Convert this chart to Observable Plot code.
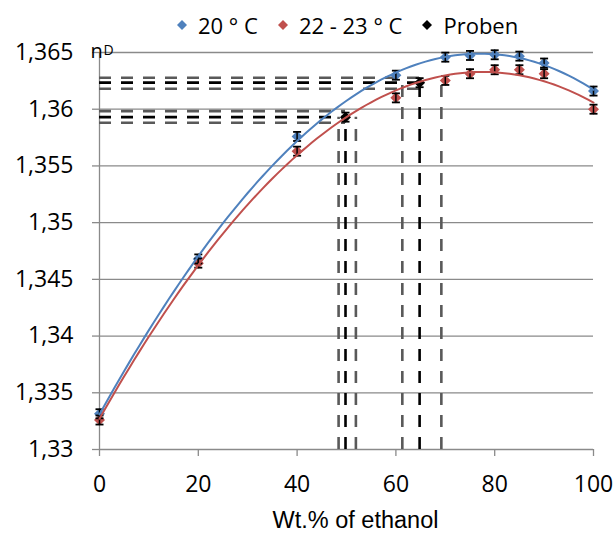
<!DOCTYPE html>
<html><head><meta charset="utf-8">
<script src="https://cdn.jsdelivr.net/npm/d3@7"></script>
<script src="https://cdn.jsdelivr.net/npm/@observablehq/plot@0.6"></script>
<style>
body{margin:0;background:#fff;}
#legend{position:relative;height:34px;font-family:"Open Sans",sans-serif;font-size:22px;color:#000;}
#legend .items{position:absolute;left:177px;top:10px;display:flex;align-items:center;height:30px;white-space:nowrap;}
#legend .item{display:flex;align-items:center;margin-right:20px;}
#legend svg{margin-right:11px;}
</style></head><body>
<div id="legend"><div class="items"></div></div>
<div id="chart"></div>
<script>
// ---- data ----
const wtPercent = [0, 20, 40, 60, 70, 75, 80, 85, 90, 100];
const nD20 = [1.33315, 1.3468, 1.3576, 1.3630, 1.36459, 1.36474, 1.3648, 1.36468, 1.36407, 1.3616];
const nD2223 = [1.3326, 1.34643, 1.3563, 1.3610, 1.36254, 1.36313, 1.36348, 1.36348, 1.36313, 1.3600];
const errHalf = 0.0004;
const probenX = [49.8, 64.8];
const probenY = [1.3593, 1.36234];
const probenXLow = [48.4, 61.3];
const probenXHigh = [51.9, 69.2];
const probenYLow = [1.35881, 1.36181];
const probenYHigh = [1.35983, 1.36278];
const xTicks = [0, 20, 40, 60, 80, 100];
const yTicks = [1.33, 1.335, 1.34, 1.345, 1.35, 1.355, 1.36, 1.365];
const yTickLabels = ["1,33", "1,335", "1,34", "1,345", "1,35", "1,355", "1,36", "1,365"];
const seriesNames = ["20 ° C", "22 - 23 ° C", "Proben"];
const seriesColors = ["#4F81BD", "#C0504D", "#000000"];
const xTitle = "Wt.% of ethanol";

// ---- legend ----
const items = d3.select("#legend .items");
seriesNames.forEach((name, i) => {
  const it = items.append("div").attr("class", "item");
  const s = it.append("svg").attr("width", 10).attr("height", 10);
  s.append("polygon").attr("points", "5,0 10,5 5,10 0,5").attr("fill", seriesColors[i]);
  it.append("span").text(name);
});

// ---- polynomial trend (least squares, cubic) ----
function polyfit(xs, ys, deg) {
  const n = deg + 1;
  const A = Array.from({length: n}, () => new Array(n + 1).fill(0));
  xs.forEach((x0, k) => {
    const x = x0 / 100;
    for (let i = 0; i < n; i++) {
      for (let j = 0; j < n; j++) A[i][j] += Math.pow(x, i + j);
      A[i][n] += ys[k] * Math.pow(x, i);
    }
  });
  for (let c = 0; c < n; c++) {
    let p = c;
    for (let r = c + 1; r < n; r++) if (Math.abs(A[r][c]) > Math.abs(A[p][c])) p = r;
    [A[c], A[p]] = [A[p], A[c]];
    for (let r = 0; r < n; r++) {
      if (r === c) continue;
      const f = A[r][c] / A[c][c];
      for (let j = c; j <= n; j++) A[r][j] -= f * A[c][j];
    }
  }
  const coef = A.map((row, i) => row[n] / row[i]);
  return x0 => coef.reduce((s, c, i) => s + c * Math.pow(x0 / 100, i), 0);
}
const f20 = polyfit(wtPercent, nD20, 3);
const f22 = polyfit(wtPercent, nD2223, 3);
const xs = d3.range(0, 100.001, 1);
const trend20 = xs.map(x => ({x, y: f20(x)}));
const trend22 = xs.map(x => ({x, y: f22(x)}));

const pts20 = wtPercent.map((x, i) => ({x, y: nD20[i]}));
const pts22 = wtPercent.map((x, i) => ({x, y: nD2223[i]}));
const ptsP = probenX.map((x, i) => ({x, y: probenY[i]}));
const allPts = [...pts20, ...pts22, ...ptsP];

const hLines = [];
const vLines = [];
probenX.forEach((x, i) => {
  hLines.push({y: probenYHigh[i], x2: x, c: "#595959"});
  hLines.push({y: probenY[i], x2: x, c: "#000"});
  hLines.push({y: probenYLow[i], x2: x, c: "#595959"});
  vLines.push({x: probenXLow[i], y2: probenY[i], c: "#595959"});
  vLines.push({x: x, y2: probenY[i], c: "#000"});
  vLines.push({x: probenXHigh[i], y2: probenY[i], c: "#595959"});
});

const diamond = {draw(ctx, size) { const r = Math.sqrt(size / Math.PI); ctx.moveTo(0, -r); ctx.lineTo(r, 0); ctx.lineTo(0, r); ctx.lineTo(-r, 0); ctx.closePath(); }};
const cap = {draw(ctx, size) { const r = Math.sqrt(size / Math.PI); ctx.moveTo(-r, 0); ctx.lineTo(r, 0); }};

const grid = "#8a8a8a";
const chart = Plot.plot({
  width: 614,
  height: 504,
  marginTop: 18,
  marginLeft: 99,
  marginRight: 21,
  marginBottom: 89,
  style: {fontFamily: "'Open Sans', sans-serif", fontSize: "23px", color: "#000", background: "#fff"},
  x: {domain: [0, 100], ticks: xTicks, tickSize: 7, tickPadding: 19, label: null, tickFormat: d => String(d)},
  y: {domain: [1.33, 1.365], ticks: yTicks, tickSize: 7, tickPadding: 19, label: null,
      tickFormat: d => yTickLabels[yTicks.indexOf(d)]},
  marks: [
    Plot.ruleY(yTicks, {stroke: grid, strokeWidth: 1.3}),
    Plot.ruleX([0], {y1: 1.33, y2: 1.365, stroke: grid, strokeWidth: 1.3}),
    Plot.ruleY(hLines, {y: "y", x1: 0, x2: "x2", stroke: "c", strokeWidth: 2.6, strokeDasharray: "12,10"}),
    Plot.ruleX(vLines, {x: "x", y1: 1.33, y2: "y2", stroke: "c", strokeWidth: 2.6, strokeDasharray: "12,10"}),
    Plot.dot(pts20, {x: "x", y: "y", symbol: diamond, r: 5.5, fill: seriesColors[0], stroke: "none"}),
    Plot.dot(pts22, {x: "x", y: "y", symbol: diamond, r: 5.5, fill: seriesColors[1], stroke: "none"}),
    Plot.dot(ptsP, {x: "x", y: "y", symbol: diamond, r: 5.5, fill: seriesColors[2], stroke: "none"}),
    Plot.ruleX(allPts, {x: "x", y1: d => d.y - errHalf, y2: d => d.y + errHalf, stroke: "#000", strokeWidth: 1.5}),
    Plot.dot(allPts, {x: "x", y: d => d.y - errHalf, symbol: cap, r: 4, stroke: "#000", strokeWidth: 1.8}),
    Plot.dot(allPts, {x: "x", y: d => d.y + errHalf, symbol: cap, r: 4, stroke: "#000", strokeWidth: 1.8}),
    Plot.line(trend20, {x: "x", y: "y", stroke: seriesColors[0], strokeWidth: 2}),
    Plot.line(trend22, {x: "x", y: "y", stroke: seriesColors[1], strokeWidth: 2}),
    Plot.text(["n"], {frameAnchor: "top-left", textAnchor: "start", dx: -9, dy: -9, fontSize: 20, fontFamily: "'Open Sans', sans-serif"}),
    Plot.text(["D"], {frameAnchor: "top-left", textAnchor: "start", dx: 4, dy: -7.1, fontSize: 14, fontFamily: "'Open Sans', sans-serif"}),
    Plot.text([xTitle], {frameAnchor: "bottom", dx: 9, dy: 78, fontSize: 23.5, fontFamily: "'Liberation Sans', Arial, sans-serif"})
  ]
});
d3.select(chart).selectAll("g[aria-label='x-axis tick'] path, g[aria-label='y-axis tick'] path").attr("stroke", grid).attr("stroke-width", 1.3);
document.getElementById("chart").appendChild(chart);
</script>
</body></html>
